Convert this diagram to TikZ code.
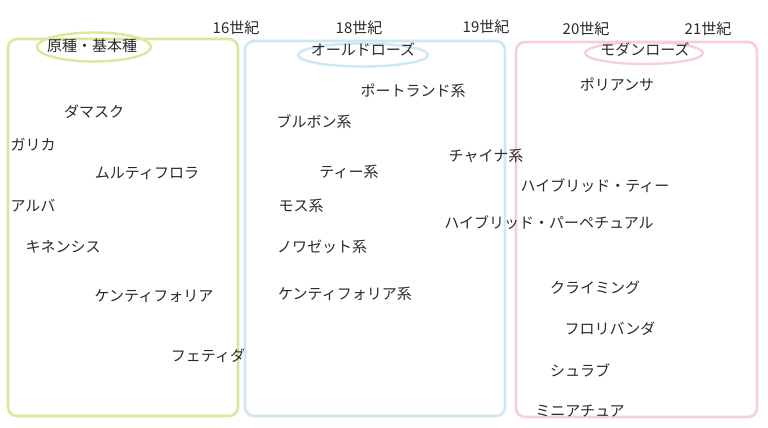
\documentclass[tikz,border=0pt]{standalone}
\usepackage{fontspec}
\setmainfont{Noto Sans CJK JP}
\usetikzlibrary{shapes.geometric}
\definecolor{gline}{HTML}{D6EA9C}
\definecolor{bline}{HTML}{CFE6F3}
\definecolor{pline}{HTML}{F7CFDB}
\definecolor{txt}{HTML}{2A2A2A}
\begin{document}
\begin{tikzpicture}[x=1pt,y=-1pt,
  lbl/.style={inner sep=0pt,text=txt,font=\fontsize{15}{17}\selectfont},
  era/.style={line width=2.6pt,rounded corners=9pt},
  tag/.style={ellipse,line width=2.4pt,inner sep=0pt}]
\useasboundingbox[fill=white] (0,0) rectangle (768,428);
% boxes
\draw[era,gline] (8,39) rectangle (238,416);
\draw[era,bline] (245,41) rectangle (505,416);
\draw[era,pline] (516,42) rectangle (757,417);
% ellipses
\node[tag,draw=gline,minimum width=114pt,minimum height=29pt] (e1) at (94,47) {};
\node[tag,draw=bline,minimum width=130pt,minimum height=23pt] (e2) at (363,55) {};
\node[tag,draw=pline,minimum width=118pt,minimum height=22pt] (e3) at (644,53) {};
% centuries
\node[lbl] (c16) at (236,28) {16世紀};
\node[lbl] (c18) at (359,28) {18世紀};
\node[lbl] (c19) at (486,27) {19世紀};
\node[lbl] (c20) at (586,29) {20世紀};
\node[lbl] (c21) at (708,29) {21世紀};
% headings
\node[lbl] (h1) at (92,46) {原種・基本種};
\node[lbl] (h2) at (363,49) {オールドローズ};
\node[lbl] (h3) at (645,50) {モダンローズ};
% species
\node[lbl] (damask) at (94,112) {ダマスク};
\node[lbl] (gallica) at (33,145) {ガリカ};
\node[lbl] (multi) at (147,173) {ムルティフロラ};
\node[lbl] (alba) at (33,206) {アルバ};
\node[lbl] (chin) at (63,247) {キネンシス};
\node[lbl] (centi) at (154,296) {ケンティフォリア};
\node[lbl] (foet) at (208,356) {フェティダ};
% old roses
\node[lbl] (port) at (413,91) {ポートランド系};
\node[lbl] (bour) at (314,122) {ブルボン系};
\node[lbl] (tea) at (349,172) {ティー系};
\node[lbl] (china) at (486,156) {チャイナ系};
\node[lbl] (moss) at (301,206) {モス系};
\node[lbl] (nois) at (322,247) {ノワゼット系};
\node[lbl] (centis) at (345,294) {ケンティフォリア系};
\node[lbl] (hp) at (549,223) {ハイブリッド・パーペチュアル};
% modern roses
\node[lbl] (poly) at (617,84) {ポリアンサ};
\node[lbl] (ht) at (595,186) {ハイブリッド・ティー};
\node[lbl] (climb) at (595,288) {クライミング};
\node[lbl] (flori) at (610,329) {フロリバンダ};
\node[lbl] (shrub) at (580,370) {シュラブ};
\node[lbl] (mini) at (580,411) {ミニアチュア};
\end{tikzpicture}
\end{document}
